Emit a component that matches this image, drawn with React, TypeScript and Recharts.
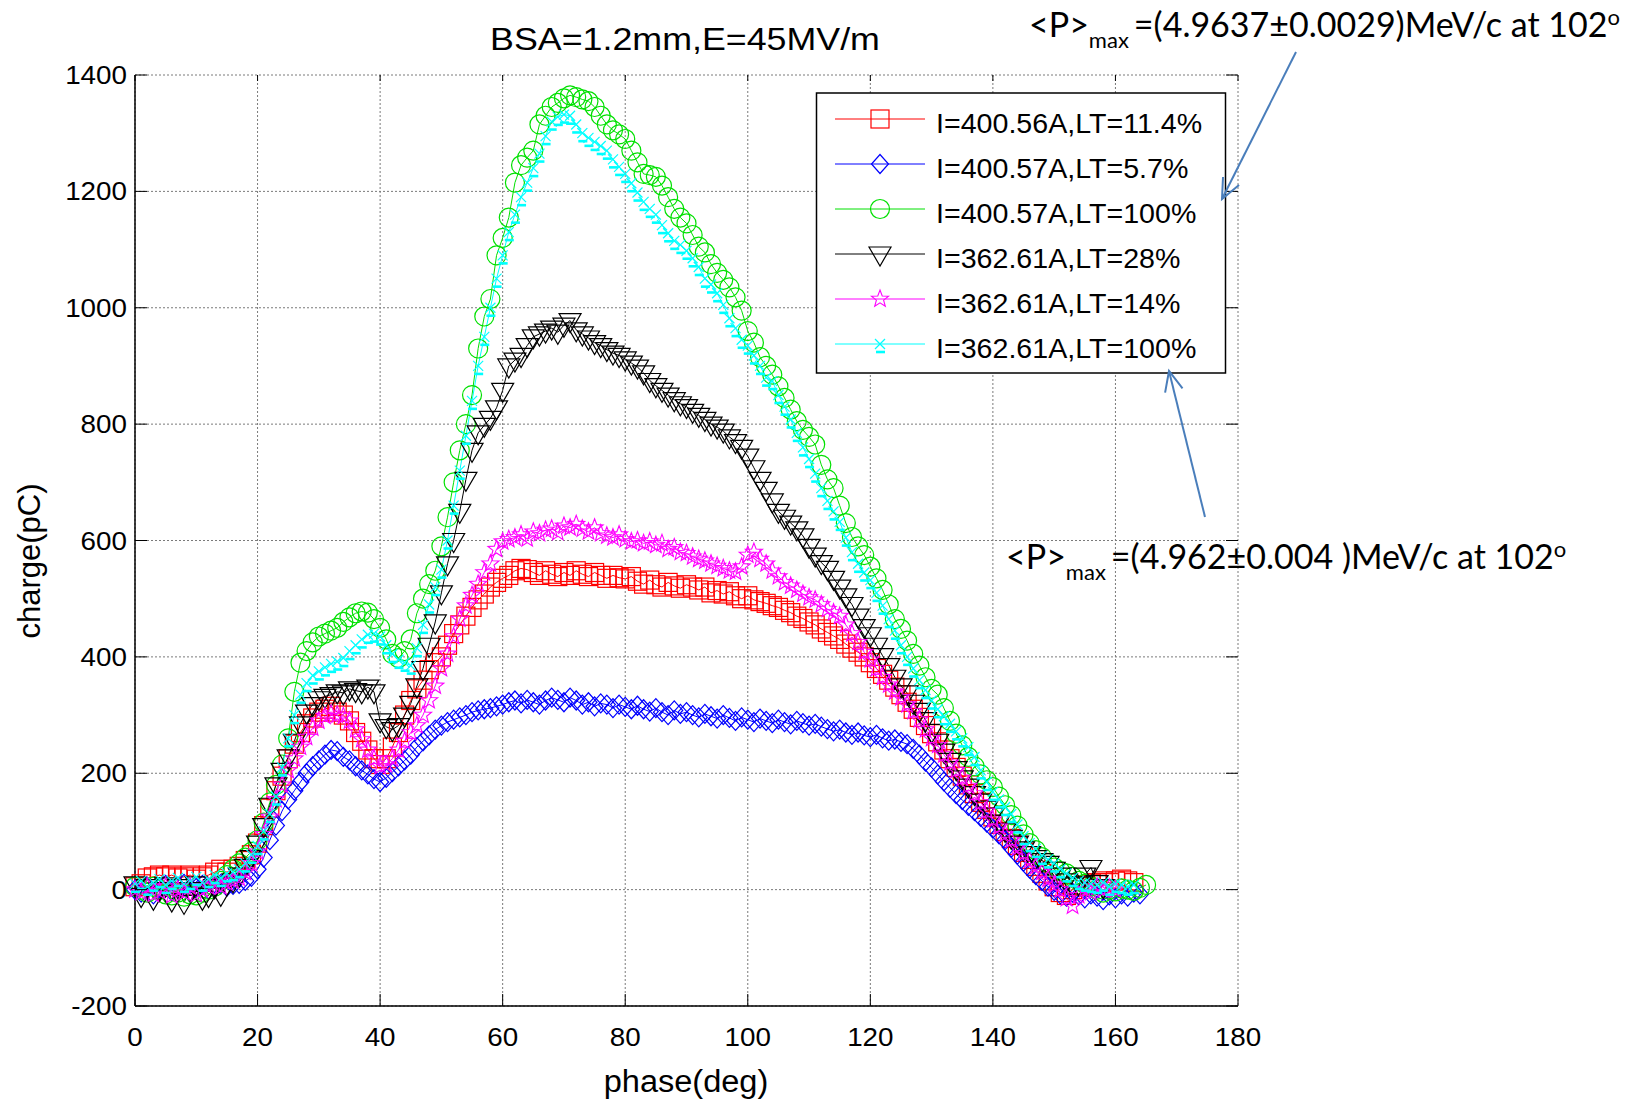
import React from 'react';
import { LineChart, Line, XAxis, YAxis, CartesianGrid } from 'recharts';

// phase scan (deg)
const PHASE = [
  0, 1, 2, 3, 4, 5, 6, 7, 8, 9, 10, 11, 12, 13, 14, 15, 16, 17, 18, 19,
  20, 21, 22, 23, 24, 25, 26, 27, 28, 29, 30, 31, 32, 33, 34, 35, 36, 37, 38, 39,
  40, 41, 42, 43, 44, 45, 46, 47, 48, 49, 50, 51, 52, 53, 54, 55, 56, 57, 58, 59,
  60, 61, 62, 63, 64, 65, 66, 67, 68, 69, 70, 71, 72, 73, 74, 75, 76, 77, 78, 79,
  80, 81, 82, 83, 84, 85, 86, 87, 88, 89, 90, 91, 92, 93, 94, 95, 96, 97, 98, 99,
  100, 101, 102, 103, 104, 105, 106, 107, 108, 109, 110, 111, 112, 113, 114, 115, 116, 117, 118, 119,
  120, 121, 122, 123, 124, 125, 126, 127, 128, 129, 130, 131, 132, 133, 134, 135, 136, 137, 138, 139,
  140, 141, 142, 143, 144, 145, 146, 147, 148, 149, 150, 151, 152, 153, 154, 155, 156, 157, 158, 159,
  160, 161, 162, 163, 164, 165,
];

// charge (pC) per phase step
const I400_56_LT11 = [
  5, 10, 20, 22, 25, 22, 25, 20, 22, 25,
  18, 22, 25, 30, 35, 30, 35, 40, 50, 60,
  80, 110, 140, 170, 195, 225, 250, 270, 285, 295,
  305, 310, 315, 305, 300, 290, 270, 255, 240, 225,
  215, 225, 245, 270, 300, 325, 345, 360, 378, 390,
  400, 420, 440, 455, 470, 485, 498, 508, 520, 528,
  535, 540, 548, 552, 550, 545, 540, 548, 542, 538,
  545, 540, 548, 542, 538, 545, 540, 535, 540, 536,
  534, 538, 530, 525, 532, 524, 520, 528, 522, 518,
  524, 520, 515, 520, 510, 514, 508, 512, 505, 500,
  505, 498, 495, 492, 488, 485, 480, 476, 470, 466,
  460, 455, 448, 442, 436, 430, 422, 415, 408, 400,
  390, 380, 370, 360, 348, 335, 322, 310, 296, 282,
  268, 254, 240, 225, 210, 195, 180, 165, 150, 138,
  125, 112, 100, 88, 76, 64, 52, 40, 28, 15,
  5, -5, -10, 0, 5, 8, 10, 12, 15, 12,
  15, 18, 15, 12,
];

const I400_57_LT5 = [
  0, -5, 5, -8, 3, 8, -3, 5, 10, -5,
  3, 8, 0, 5, 10, 5, 8, 10, 15, 22,
  35, 55, 85, 110, 135, 155, 170, 185, 200, 212,
  222, 232, 240, 238, 228, 222, 212, 205, 198, 190,
  185, 192, 202, 212, 222, 232, 245, 255, 265, 275,
  282, 288, 292, 296, 300, 305, 308, 310, 312, 315,
  318, 322, 325, 320, 326, 322, 318, 325, 330, 326,
  322, 330, 325, 318, 322, 315, 320, 318, 312, 318,
  314, 310, 316, 310, 306, 312, 305, 300, 308, 302,
  305, 300, 296, 302, 298, 294, 300, 295, 290, 296,
  292, 288, 294, 290, 286, 292, 288, 284, 290, 286,
  282, 285, 280, 276, 272, 275, 270, 266, 270, 265,
  262, 266, 260, 256, 258, 254, 250, 242, 232, 220,
  210, 198, 186, 175, 164, 154, 144, 135, 125, 115,
  105, 95, 85, 72, 60, 48, 36, 25, 15, 5,
  -2, -8, -12, -5, -10, -15, -8, -12, -18, -10,
  -15, -8, -12, -5, -8,
];

const I400_57_LT100 = [
  5, 0, -5, 5, 0, -8, -10, -5, -12, -8,
  -10, -5, 0, 5, 15, 25, 35, 45, 55, 65,
  85, 115, 150, 180, 215, 260, 340, 390, 410, 425,
  435, 440, 445, 450, 460, 468, 475, 478, 476, 465,
  450, 430, 405, 398, 410, 430, 475, 500, 525, 548,
  590, 640, 700, 755, 800, 850, 930, 985, 1015, 1090,
  1120, 1155, 1215, 1245, 1258, 1270, 1315, 1330, 1345, 1352,
  1360, 1365, 1362, 1358, 1355, 1345, 1330, 1315, 1305, 1298,
  1290, 1270, 1250, 1230, 1228, 1225, 1210, 1190, 1170, 1155,
  1145, 1125, 1105, 1095, 1075, 1060, 1048, 1035, 1018, 995,
  960, 940, 915, 900, 885, 865, 845, 825, 805, 790,
  778, 765, 730, 705, 690, 660, 630, 606, 590, 575,
  555, 535, 515, 490, 465, 448, 428, 405, 385, 365,
  345, 335, 312, 290, 268, 248, 228, 212, 198, 188,
  176, 160, 145, 128, 110, 95, 80, 68, 56, 46,
  38, 32, 28, 22, 15, 10, 5, 0, -5, 0,
  -3, 2, 0, -2, 3, 8,
];

const I362_61_LT28 = [
  10, -10, 5, -15, 0, 8, -18, 5, -22, 0,
  10, -15, -10, 5, -8, 10, 15, 25, 40, 55,
  80, 110, 145, 180, 205, 228, 255, 285, 305, 318,
  328, 332, 335, 340, 338, 345, 342, 340, 348, 340,
  290, 280, 275, 282, 300, 320, 350, 380, 420, 460,
  510, 560, 600, 650, 705, 755, 785, 798, 810, 828,
  858, 900, 910, 918, 935, 950, 955, 960, 965, 958,
  970, 978, 962, 955, 948, 940, 935, 928, 922, 918,
  912, 905, 898, 888, 875, 866, 858, 850, 842, 835,
  830, 822, 815, 808, 800, 795, 788, 778, 770, 760,
  745, 725, 705, 688, 668, 650, 640, 630, 620, 608,
  590, 575, 562, 552, 535, 520, 505, 490, 470, 452,
  438, 420, 402, 385, 365, 350, 338, 322, 308, 292,
  272, 255, 238, 222, 208, 192, 178, 165, 152, 140,
  128, 116, 102, 90, 80, 70, 62, 55, 50, 45,
  35, 25, 15, 8, 10, 25, 38, 12, 5,
];

const I362_61_LT14 = [
  0, -5, 5, -8, -3, 5, -10, 0, -5, 5,
  -8, 0, 5, 10, 5, 12, 15, 20, 30, 45,
  65, 95, 125, 155, 180, 205, 225, 245, 262, 278,
  290, 298, 302, 300, 298, 290, 275, 258, 240, 225,
  212, 215, 225, 240, 255, 270, 282, 300, 325, 350,
  380, 405, 435, 465, 488, 506, 525, 545, 560, 585,
  598, 602, 605, 610, 603, 615, 612, 618, 620, 614,
  625, 622, 628, 620, 615, 622, 612, 608, 605, 610,
  602, 598, 600, 595, 598, 592, 595, 585, 588, 580,
  578, 572, 568, 565, 560, 556, 552, 548, 546, 555,
  575, 580, 568, 560, 548, 538, 528, 522, 515, 508,
  502, 498, 490, 482, 476, 470, 455, 440, 425, 408,
  395, 380, 365, 352, 340, 330, 318, 306, 292, 275,
  260, 248, 232, 218, 205, 192, 178, 165, 150, 135,
  120, 108, 95, 85, 72, 62, 50, 40, 30, 18,
  8, 0, -15, -28, -10, 0, -5, 5, 0, 3,
  0,
];

const I362_61_LT100 = [
  10, 15, 5, 12, 18, 8, 15, 20, 10, 15,
  22, 12, 18, 25, 20, 28, 30, 35, 45, 60,
  75, 100, 130, 160, 210, 260, 300, 335, 355, 368,
  375, 382, 388, 392, 398, 410, 420, 430, 438, 440,
  435, 420, 405, 395, 390, 385, 415, 455, 490, 520,
  550, 600, 660, 720, 780, 840, 900, 950, 1000, 1050,
  1090, 1130, 1160, 1190, 1215, 1240, 1265, 1295, 1320, 1328,
  1332, 1330, 1315, 1300, 1292, 1285, 1278, 1270, 1255, 1242,
  1230, 1214, 1198, 1182, 1170, 1160, 1142, 1128, 1115, 1108,
  1098, 1085, 1070, 1050, 1040, 1025, 1005, 982, 965, 945,
  935, 918, 900, 880, 874, 850, 830, 808, 785, 760,
  740, 715, 690, 668, 650, 632, 605, 580, 560, 545,
  532, 510, 488, 465, 445, 420, 400, 380, 360, 343,
  325, 310, 298, 285, 272, 260, 245, 228, 205, 185,
  168, 155, 142, 130, 112, 92, 80, 70, 58, 52,
  45, 35, 28, 20, 15, 12, 10, 8, 12, 5,
  10, 8, 5, 8,
];

const X_TICKS = [0, 20, 40, 60, 80, 100, 120, 140, 160, 180];
const Y_TICKS = [-200, 0, 200, 400, 600, 800, 1000, 1200, 1400];

const SERIES = [
  { key: 'a', name: 'I=400.56A,LT=11.4%', color: '#ff0000', marker: 'square', values: I400_56_LT11 },
  { key: 'b', name: 'I=400.57A,LT=5.7%', color: '#0000ff', marker: 'diamond', values: I400_57_LT5 },
  { key: 'c', name: 'I=400.57A,LT=100%', color: '#00e000', marker: 'circle', values: I400_57_LT100 },
  { key: 'd', name: 'I=362.61A,LT=28%', color: '#000000', marker: 'triangle', values: I362_61_LT28 },
  { key: 'e', name: 'I=362.61A,LT=14%', color: '#ff00ff', marker: 'star', values: I362_61_LT14 },
  { key: 'f', name: 'I=362.61A,LT=100%', color: '#00ffff', marker: 'cross', values: I362_61_LT100 },
];

const data = PHASE.map((p, i) => {
  const row: Record<string, number | null> = { phase: p };
  SERIES.forEach((s) => {
    row[s.key] = i < s.values.length ? s.values[i] : null;
  });
  return row;
});

const W = 1629;
const H = 1104;
const PLOT_LEFT = 135;
const PLOT_RIGHT = 1238;
const PLOT_TOP = 75;
const PLOT_BOTTOM = 1006;
const ARIAL = '"Liberation Sans", Arial, sans-serif';
const CALIBRI = 'Lato, "Open Sans", sans-serif';
const ARROW_BLUE = '#4a7ebb';

function starPoints(cx: number, cy: number, ro: number, ri: number) {
  const pts: string[] = [];
  for (let k = 0; k < 10; k++) {
    const r = k % 2 === 0 ? ro : ri;
    const a = -Math.PI / 2 + (k * Math.PI) / 5;
    pts.push(`${cx + r * Math.cos(a)},${cy + r * Math.sin(a)}`);
  }
  return pts.join(' ');
}

function Marker({ kind, cx, cy, color }: { kind: string; cx: number; cy: number; color: string }) {
  switch (kind) {
    case 'square':
      return <rect x={cx - 9} y={cy - 9} width={18} height={18} fill="none" stroke={color} strokeWidth={1.2} />;
    case 'diamond':
      return (
        <polygon
          points={`${cx},${cy - 9.5} ${cx + 8.5},${cy} ${cx},${cy + 9.5} ${cx - 8.5},${cy}`}
          fill="none"
          stroke={color}
          strokeWidth={1.2}
        />
      );
    case 'circle':
      return <circle cx={cx} cy={cy} r={9.5} fill="none" stroke={color} strokeWidth={1.2} />;
    case 'triangle':
      return (
        <polygon
          points={`${cx - 11},${cy - 7} ${cx + 11},${cy - 7} ${cx},${cy + 12}`}
          fill="none"
          stroke={color}
          strokeWidth={1.2}
        />
      );
    case 'star':
      return <polygon points={starPoints(cx, cy, 9, 3.8)} fill="none" stroke={color} strokeWidth={1.1} />;
    case 'cross':
      return (
        <g stroke={color} fill="none">
          <line x1={cx - 5} y1={cy - 5} x2={cx + 5} y2={cy + 5} strokeWidth={1.2} />
          <line x1={cx - 5} y1={cy + 5} x2={cx + 5} y2={cy - 5} strokeWidth={1.2} />
          <line x1={cx - 4} y1={cy + 8} x2={cx + 5} y2={cy + 8} strokeWidth={2.6} />
        </g>
      );
    default:
      return null;
  }
}

const YTick = (props: any) => {
  const { y, payload } = props;
  return (
    <g>
      <line x1={PLOT_LEFT} x2={PLOT_LEFT + 12} y1={y} y2={y} stroke="#000" />
      <line x1={PLOT_RIGHT} x2={PLOT_RIGHT - 12} y1={y} y2={y} stroke="#000" />
      <text
        transform={`translate(${PLOT_LEFT - 8},${y + 9}) scale(1.07,1)`}
        textAnchor="end"
        fontSize={26}
        fontFamily={ARIAL}
        fill="#000"
      >
        {payload.value}
      </text>
    </g>
  );
};

const XTick = (props: any) => {
  const { x, payload } = props;
  return (
    <g>
      <line x1={x} x2={x} y1={PLOT_BOTTOM} y2={PLOT_BOTTOM - 12} stroke="#000" />
      <line x1={x} x2={x} y1={PLOT_TOP} y2={PLOT_TOP + 6} stroke="#000" />
      <text
        transform={`translate(${x},${PLOT_BOTTOM + 40}) scale(1.07,1)`}
        textAnchor="middle"
        fontSize={26}
        fontFamily={ARIAL}
        fill="#000"
      >
        {payload.value}
      </text>
    </g>
  );
};

function Arrow({ x1, y1, x2, y2 }: { x1: number; y1: number; x2: number; y2: number }) {
  const ang = Math.atan2(y2 - y1, x2 - x1);
  const len = 22;
  const spread = 0.42;
  const a1 = ang + Math.PI - spread;
  const a2 = ang + Math.PI + spread;
  return (
    <g stroke={ARROW_BLUE} strokeWidth={2} fill="none">
      <line x1={x1} y1={y1} x2={x2} y2={y2} />
      <polyline
        points={`${x2 + len * Math.cos(a1)},${y2 + len * Math.sin(a1)} ${x2},${y2} ${x2 + len * Math.cos(a2)},${y2 + len * Math.sin(a2)}`}
      />
    </g>
  );
}

// <P>max =(...)MeV/c at 102°, sub/superscript as tspans of one text
function PAnnotation({ x, y, value }: { x: number; y: number; value: string }) {
  return (
    <text x={x} y={y} fill="#000" fontFamily={CALIBRI} fontSize={34}>
      <tspan>{'<P>'}</tspan>
      <tspan dy={11} fontSize={22}>
        max
      </tspan>
      <tspan dy={-11} dx={5}>
        {value}
      </tspan>
      <tspan dy={-12} fontSize={22}>
        o
      </tspan>
    </text>
  );
}

function Overlay() {
  const rowY = [119, 164, 209, 254, 299, 344];
  return (
    <svg width={W} height={H} style={{ position: 'absolute', left: 0, top: 0, pointerEvents: 'none' }}>
      <text
        transform={`translate(685,50) scale(1.155,1)`}
        textAnchor="middle"
        fontSize={31}
        fontFamily={ARIAL}
        fill="#000"
      >
        BSA=1.2mm,E=45MV/m
      </text>
      <text
        transform={`translate(686,1092) scale(1.05,1)`}
        textAnchor="middle"
        fontSize={31}
        fontFamily={ARIAL}
        fill="#000"
      >
        phase(deg)
      </text>
      <text
        transform={`translate(40,561) rotate(-90)`}
        textAnchor="middle"
        fontSize={31}
        fontFamily={ARIAL}
        fill="#000"
      >
        charge(pC)
      </text>

      <rect x={816.5} y={93} width={409} height={280} fill="#fff" stroke="#000" strokeWidth={1.5} />
      {SERIES.map((s, i) => (
        <g key={s.key}>
          <line x1={835} x2={925} y1={rowY[i]} y2={rowY[i]} stroke={s.color} strokeWidth={1} />
          <Marker kind={s.marker} cx={880} cy={rowY[i]} color={s.color} />
          <text
            transform={`translate(936,${rowY[i] + 14}) scale(1.06,1)`}
            fontSize={27}
            fontFamily={ARIAL}
            fill="#000"
          >
            {s.name}
          </text>
        </g>
      ))}

      <PAnnotation x={1029} y={37} value="=(4.9637±0.0029)MeV/c at 102" />
      <PAnnotation x={1006} y={569} value="=(4.962±0.004 )MeV/c at 102" />
      <Arrow x1={1296} y1={52} x2={1222} y2={199} />
      <Arrow x1={1205} y1={517} x2={1169} y2={371} />
    </svg>
  );
}

export default function App() {
  return (
    <div style={{ position: 'absolute', left: 0, top: 0, width: W, height: H, background: '#fff' }}>
      <LineChart
        width={W}
        height={H}
        data={data}
        margin={{ top: PLOT_TOP, right: W - PLOT_RIGHT, left: PLOT_LEFT - 80, bottom: H - PLOT_BOTTOM - 60 }}
      >
        <CartesianGrid stroke="#7a7a7a" strokeDasharray="2 2" />
        <XAxis
          dataKey="phase"
          type="number"
          domain={[0, 180]}
          ticks={X_TICKS}
          interval={0}
          height={60}
          tickLine={false}
          axisLine={{ stroke: '#000', strokeWidth: 1.5 }}
          tick={XTick}
        />
        <YAxis
          type="number"
          domain={[-200, 1400]}
          ticks={Y_TICKS}
          interval={0}
          width={80}
          tickLine={false}
          axisLine={{ stroke: '#000', strokeWidth: 1.5 }}
          tick={YTick}
        />
        {SERIES.map((s) => (
          <Line
            key={s.key}
            type="linear"
            dataKey={s.key}
            name={s.name}
            stroke={s.color}
            strokeWidth={1}
            isAnimationActive={false}
            activeDot={false}
            dot={(p: any) =>
              p.value == null || p.cx == null || p.cy == null ? (
                <g key={`${s.key}-${p.index}`} />
              ) : (
                <g key={`${s.key}-${p.index}`}>
                  <Marker kind={s.marker} cx={p.cx} cy={p.cy} color={s.color} />
                </g>
              )
            }
          />
        ))}
      </LineChart>
      <Overlay />
    </div>
  );
}
